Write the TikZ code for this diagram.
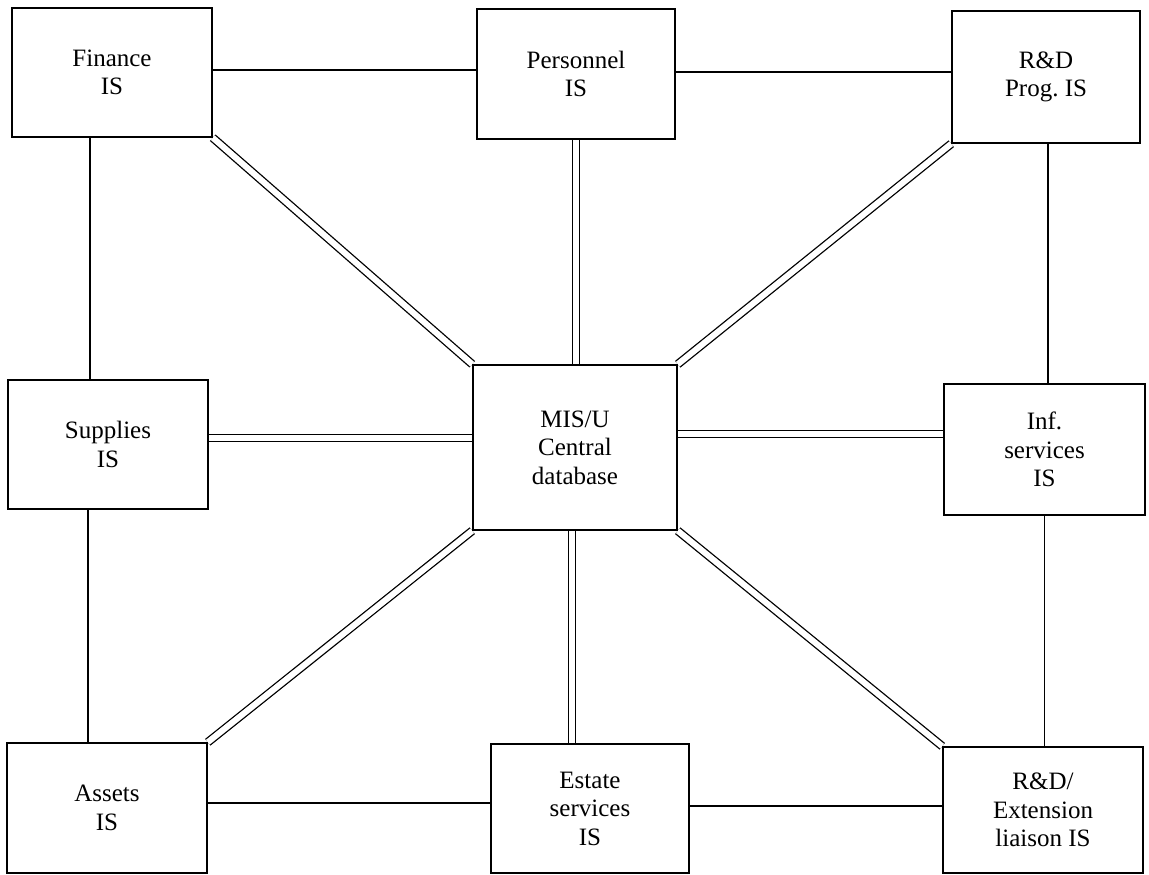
\documentclass[tikz,border=0pt]{standalone}
\usepackage{fontspec}
\setmainfont{Liberation Serif}
\usetikzlibrary{backgrounds}
\begin{document}
\begin{tikzpicture}[x=1pt,y=-1pt,
  box/.style={draw, fill=white, line width=1.5pt, inner sep=0pt, align=center,
              font=\fontsize{25}{28.5}\selectfont},
  link/.style={line width=1.3pt},
  dlink/.style={double, double distance=6pt, line width=1.3pt}]
\useasboundingbox (0,0) rectangle (1149,875);

% Information systems
\node[box, minimum width=200pt, minimum height=129pt] (fin) at (112,72.5) {Finance\\IS};
\node[box, minimum width=198pt, minimum height=130pt] (per) at (576,74) {Personnel\\IS};
\node[box, minimum width=188pt, minimum height=132pt] (rdp) at (1046,77) {R\&D\\Prog.~IS};
\node[box, minimum width=200pt, minimum height=129pt] (sup) at (108,444.5) {Supplies\\IS};
\node[box, minimum width=204pt, minimum height=165pt] (mis) at (575,447.5) {MIS/U\\Central\\database};
\node[box, minimum width=201pt, minimum height=131pt] (inf) at (1044.5,449.5) {Inf.\\services\\IS};
\node[box, minimum width=200pt, minimum height=130pt] (ass) at (107,808) {Assets\\IS};
\node[box, minimum width=198pt, minimum height=129pt] (est) at (590,808.5) {Estate\\services\\IS};
\node[box, minimum width=200pt, minimum height=126pt] (rde) at (1043,810) {R\&D/\\Extension\\liaison IS};

\begin{scope}[on background layer]
  \fill[white] (0,0) rectangle (1149,875);

  % ring of single links
  \draw[link] ([yshift=2.5pt]fin.east) -- ([yshift=2.5pt]fin.east -| per.west);
  \draw[link] ([yshift=2pt]per.east) -- ([yshift=2pt]per.east -| rdp.west);
  \draw[link] ([xshift=-22pt]fin.south) -- ([xshift=-22pt]fin.south |- sup.north);
  \draw[link] ([xshift=-20pt]sup.south) -- ([xshift=-20pt]sup.south |- ass.north);
  \draw[link] ([xshift=2pt]rdp.south) -- ([xshift=2pt]rdp.south |- inf.north);
  \draw[link] (inf.south) -- (inf.south |- rde.north);
  \draw[link] ([yshift=5pt]ass.east) -- ([yshift=5pt]ass.east -| est.west);
  \draw[link] ([yshift=2.5pt]est.east) -- ([yshift=2.5pt]est.east -| rde.west);

  % double links to the central database
  \draw[dlink] (per.south) -- (per.south |- mis.north);
  \draw[dlink] ([xshift=-3pt]mis.south) -- ([xshift=-3pt]mis.south |- est.north);
  \draw[dlink] ([yshift=6.5pt]sup.east) -- ([yshift=6.5pt]sup.east -| mis.west);
  \draw[dlink] ([yshift=13.5pt]mis.east) -- ([yshift=13.5pt]mis.east -| inf.west);
  \draw[dlink] (fin.south east) -- (mis.north west);
  \draw[dlink] (rdp.south west) -- (mis.north east);
  \draw[dlink] (mis.south west) -- (ass.north east);
  \draw[dlink] (mis.south east) -- (rde.north west);
\end{scope}
\end{tikzpicture}
\end{document}
